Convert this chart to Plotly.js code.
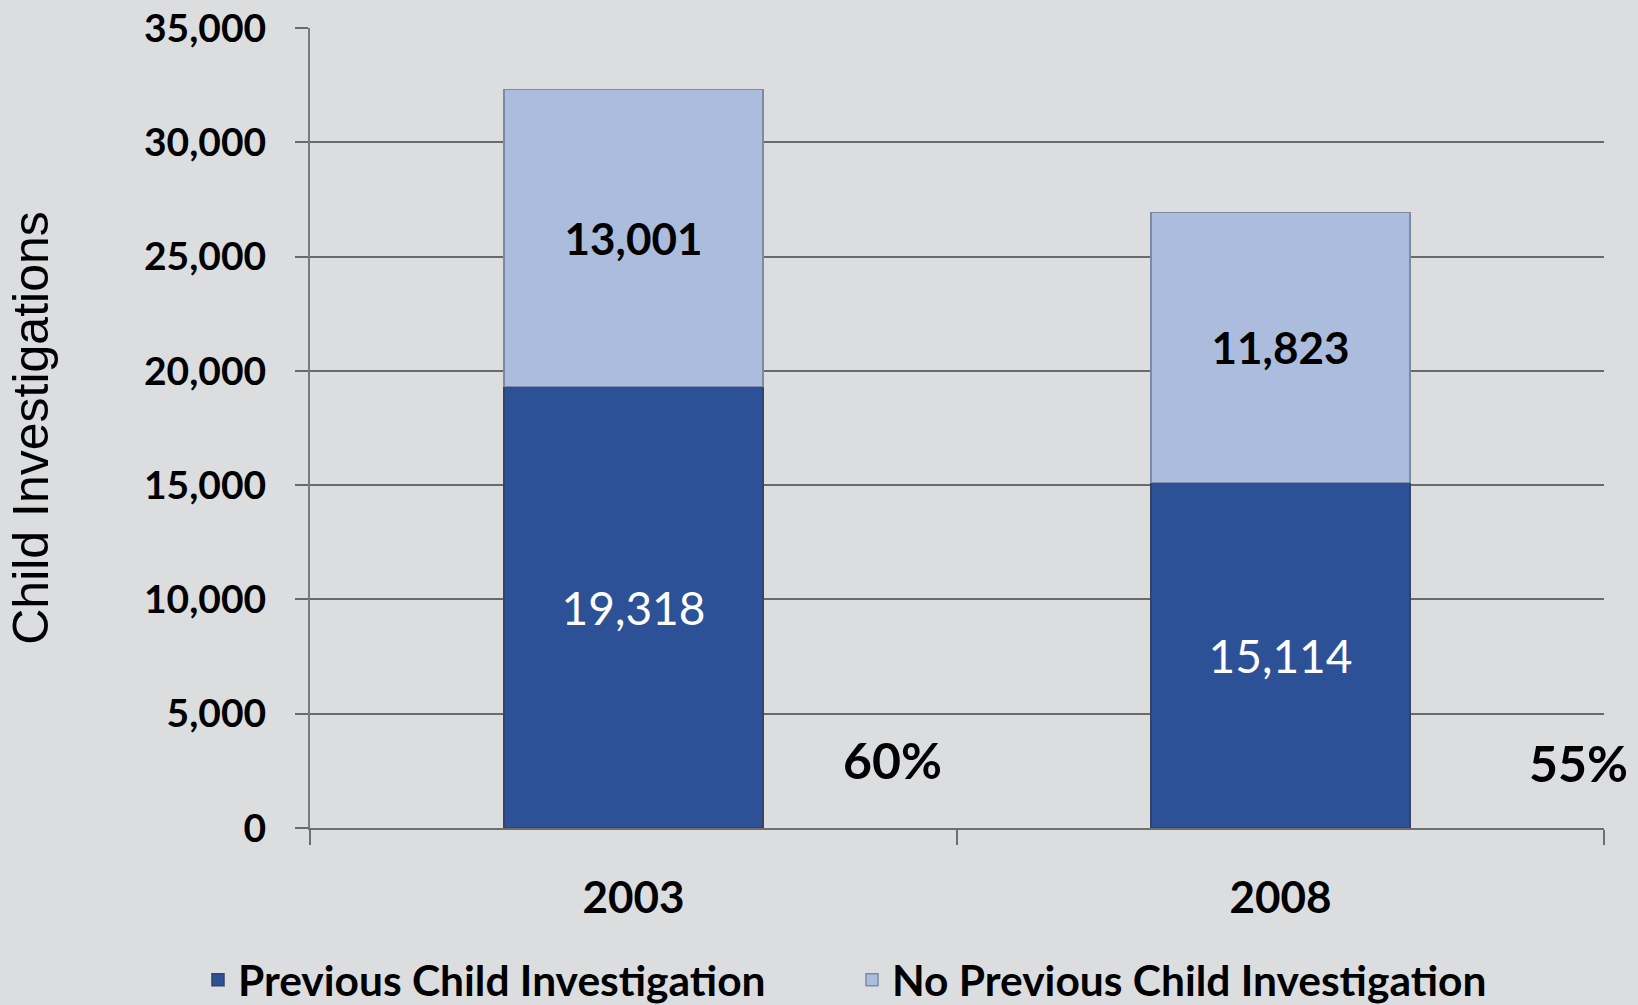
<!DOCTYPE html>
<html>
<head>
<meta charset="utf-8">
<script src="https://cdn.plot.ly/plotly-3.0.1.min.js"></script>
<style>html,body{margin:0;padding:0;background:#dcdddf;}#chart{width:1638px;height:1005px;}</style>
</head>
<body>
<div id="chart"></div>
<script>
const years = ['2003', '2008'];
const previousInvestigation = [19318, 15114];
const noPreviousInvestigation = [13001, 11823];
const pctLabels = ['60%', '55%'];
const pctX = [0.40, 1.46];
const pctY = [2975, 2840];
const yTicks = [0, 5000, 10000, 15000, 20000, 25000, 30000, 35000];

const FONT = 'Lato, "Open Sans", sans-serif';

const traces = [
  {
    type: 'bar', name: 'Previous Child Investigation', legend: 'legend',
    x: years, y: previousInvestigation,
    text: previousInvestigation.map(v => v.toLocaleString('en-US')),
    texttemplate: '%{text}', textposition: 'inside', insidetextanchor: 'middle',
    textfont: {family: FONT, size: 46, color: '#ffffff'},
    marker: {color: '#2d5196', line: {color: '#33436a', width: 1.5}},
    width: 0.4, hoverinfo: 'skip'
  },
  {
    type: 'bar', name: 'No Previous Child Investigation', legend: 'legend2',
    x: years, y: noPreviousInvestigation,
    text: noPreviousInvestigation.map(v => v.toLocaleString('en-US')),
    texttemplate: '<b>%{text}</b>', textposition: 'inside', insidetextanchor: 'middle',
    textfont: {family: FONT, size: 44, color: '#000000'},
    marker: {color: '#abbcdd', line: {color: '#7d8aa6', width: 1.5}},
    width: 0.4, hoverinfo: 'skip'
  }
];

const legendBase = {
  orientation: 'h', xref: 'container', yref: 'container', xanchor: 'left', yanchor: 'middle',
  y: 1 - 980 / 1005,
  font: {family: FONT, size: 42.5, color: '#000', weight: 'bold'},
  bgcolor: 'rgba(0,0,0,0)'
};

const layout = {
  width: 1638, height: 1005,
  barmode: 'stack',
  paper_bgcolor: '#dcdddf', plot_bgcolor: '#dcdddf',
  margin: {l: 310, r: 34, t: 28, b: 177, autoexpand: false},
  showlegend: true,
  legend: Object.assign({}, legendBase, {x: 198 / 1638}),
  legend2: Object.assign({}, legendBase, {x: 852 / 1638}),
  xaxis: {
    type: 'category', range: [-0.5, 1.5], showgrid: false, showline: true, linecolor: '#6e6e6e', linewidth: 2,
    ticks: 'outside', tickson: 'boundaries', ticklen: 15, tickcolor: '#6e6e6e', tickwidth: 2,
    tickfont: {family: FONT, size: 44, color: '#000', weight: 'bold'}, ticklabelstandoff: 30
  },
  yaxis: {
    range: [0, 35000], tickvals: yTicks, tickformat: ',', separatethousands: true,
    showgrid: true, gridcolor: '#6a6a6a', gridwidth: 2,
    showline: true, linecolor: '#7a7a7a', linewidth: 2,
    ticks: 'outside', ticklen: 13, tickcolor: '#6a6a6a', tickwidth: 2,
    tickfont: {family: FONT, size: 39, color: '#000', weight: 'bold'}, ticklabelstandoff: 21,
    zeroline: false,
    title: {text: 'Child Investigations', font: {family: '"Liberation Sans", Arial, sans-serif', size: 50, color: '#000'}, standoff: 79}
  },
  annotations: pctLabels.map((t, i) => ({
    x: pctX[i], y: pctY[i], xref: 'x', yref: 'y', text: '<b>' + t + '</b>', showarrow: false,
    font: {family: FONT, size: 50, color: '#000'}, xanchor: 'center', yanchor: 'middle'
  }))
};

Plotly.newPlot('chart', traces, layout, {staticPlot: true});
</script>
</body>
</html>
